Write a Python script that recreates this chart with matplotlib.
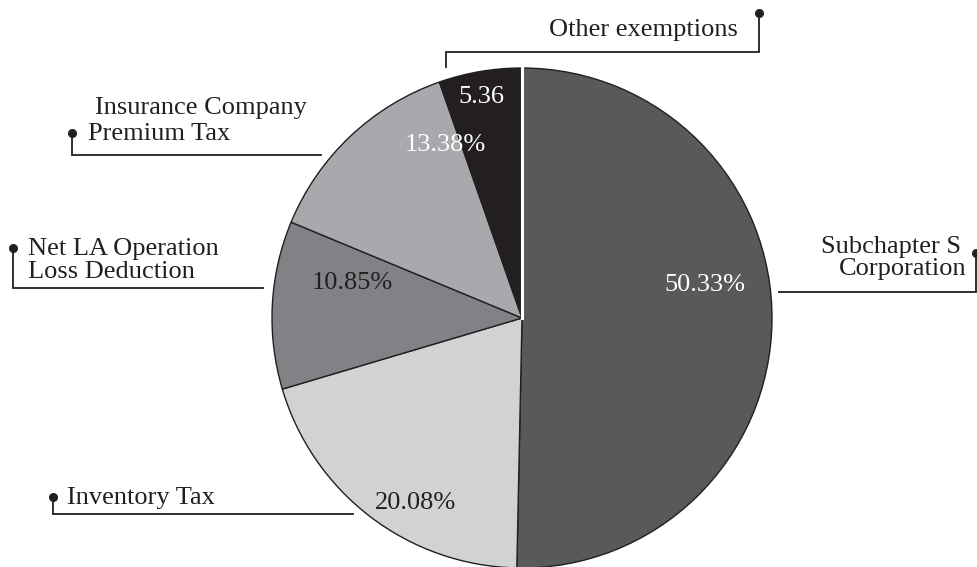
import numpy as np
import matplotlib
matplotlib.use("Agg")
import matplotlib.pyplot as plt

# ---- data ----
categories = ["Subchapter S Corporation", "Inventory Tax", "Net LA Operation Loss Deduction",
              "Insurance Company Premium Tax", "Other exemptions"]
shares = [50.33, 20.08, 10.85, 13.38, 5.36]
value_labels = ["50.33%", "20.08%", "10.85%", "13.38%", "5.36"]

colors = ["#58595b", "#d1d2d4", "#808285", "#a7a9ac", "#231f20"]
value_colors = ["white", "#231f20", "#231f20", "white", "white"]

W, H = 977, 567
INK = "#231f20"
FONT = "Liberation Serif"
FS = 19

def Y(y):  # image row -> data y
    return H - y

fig = plt.figure(figsize=(W / 100, H / 100), dpi=100)
ax = fig.add_axes([0, 0, 1, 1])

cx, cy, r = 522, Y(318), 250
wedges, _ = ax.pie(shares, colors=colors, startangle=90, counterclock=False,
                   center=(cx, cy), radius=r,
                   wedgeprops=dict(edgecolor=INK, linewidth=1.0))
# white seam at the starting boundary
ax.plot([cx, cx], [cy, cy + r], color="white", lw=2.2, zorder=5)

ax.set_xlim(0, W)
ax.set_ylim(0, H)
ax.set_aspect("equal")
ax.axis("off")

# value labels inside the slices (image coordinates)
value_pos = [(705, 285), (416, 503), (352, 283), (445, 145), (481, 97)]
for (x, y), txt, c in zip(value_pos, value_labels, value_colors):
    ax.text(x, Y(y), txt, color=c, fontsize=FS, family=FONT, ha="center", va="center", zorder=6)

# category callouts: text lines (x, baseline, ha) and leader polyline (dot first)
callouts = [
    ([("Subchapter S", 961, 253, "right"), ("Corporation", 967, 275, "right")],
     [(976, 253), (976, 292), (779, 292)]),
    ([("Inventory Tax", 67, 504, "left")],
     [(53, 497), (53, 514), (353, 514)]),
    ([("Net LA Operation", 28, 255, "left"), ("Loss Deduction", 28, 278, "left")],
     [(13, 248), (13, 288), (263, 288)]),
    ([("Insurance Company", 95, 114, "left"), ("Premium Tax", 88, 140, "left")],
     [(72, 133), (72, 155), (321, 155)]),
    ([("Other exemptions", 738, 36, "right")],
     [(759, 13), (759, 52), (446, 52), (446, 67)]),
]
for lines, path in callouts:
    for txt, x, yb, ha in lines:
        ax.text(x, Y(yb), txt, color=INK, fontsize=FS, family=FONT, ha=ha, va="baseline")
    xs = [p[0] for p in path]
    ys = [Y(p[1]) for p in path]
    ax.plot(xs, ys, color=INK, lw=1.3, solid_joinstyle="miter", clip_on=False)
    ax.plot(xs[0], ys[0], "o", color=INK, ms=5.5, clip_on=False)

fig.savefig("out.png", dpi=100)
